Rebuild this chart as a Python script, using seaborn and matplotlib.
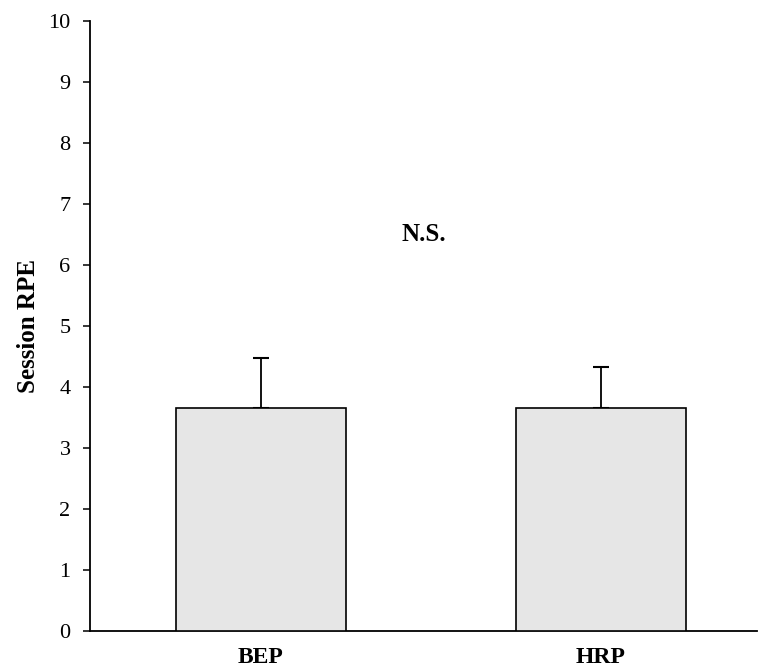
import numpy as np
import pandas as pd
import seaborn as sns
import matplotlib.pyplot as plt

# values
groups = ['BEP', 'HRP']
session_rpe = [3.65, 3.65]
sd_upper = [0.82, 0.67]
yticks = list(range(0, 11))

sns.set_style('white')
plt.rcParams['font.family'] = ['Liberation Serif', 'DejaVu Serif']
plt.rcParams['text.color'] = 'black'
plt.rcParams['axes.labelcolor'] = 'black'
plt.rcParams['xtick.color'] = 'black'
plt.rcParams['ytick.color'] = 'black'

df = pd.DataFrame({'group': groups, 'rpe': session_rpe})

fig = plt.figure(figsize=(7.59, 6.68), dpi=100)
ax = fig.add_axes([0.1186, 0.0559, 0.8784, 0.9131])

sns.barplot(data=df, x='group', y='rpe', color='#e6e6e6', saturation=1,
            width=0.5, edgecolor='black', linewidth=1.2, errorbar=None, ax=ax, zorder=3)

ax.errorbar(np.arange(len(groups)), session_rpe,
            yerr=[np.zeros(len(groups)), sd_upper],
            fmt='none', ecolor='black', elinewidth=1.3, capsize=6, capthick=1.5, zorder=2)

ax.text(0.48, 6.5, 'N.S.', ha='center', va='center', fontsize=18, fontweight='bold')

ax.set_xlim(-0.503, 1.459)
ax.set_ylim(0, 10)
ax.set_yticks(yticks)
ax.set_xlabel('')
ax.set_ylabel('Session RPE', fontsize=18, fontweight='bold', labelpad=6)

sns.despine(ax=ax)
for side in ['left', 'bottom']:
    ax.spines[side].set_color('black')
    ax.spines[side].set_linewidth(1.3)

ax.tick_params(axis='y', direction='out', length=5, width=1.1, color='black',
               labelcolor='black', labelsize=16, pad=9, left=True)
ax.tick_params(axis='x', length=0, labelsize=17, pad=12, labelcolor='black')
for lab in ax.get_xticklabels():
    lab.set_fontweight('bold')
ax.grid(False)

fig.savefig('out.png', dpi=100)
